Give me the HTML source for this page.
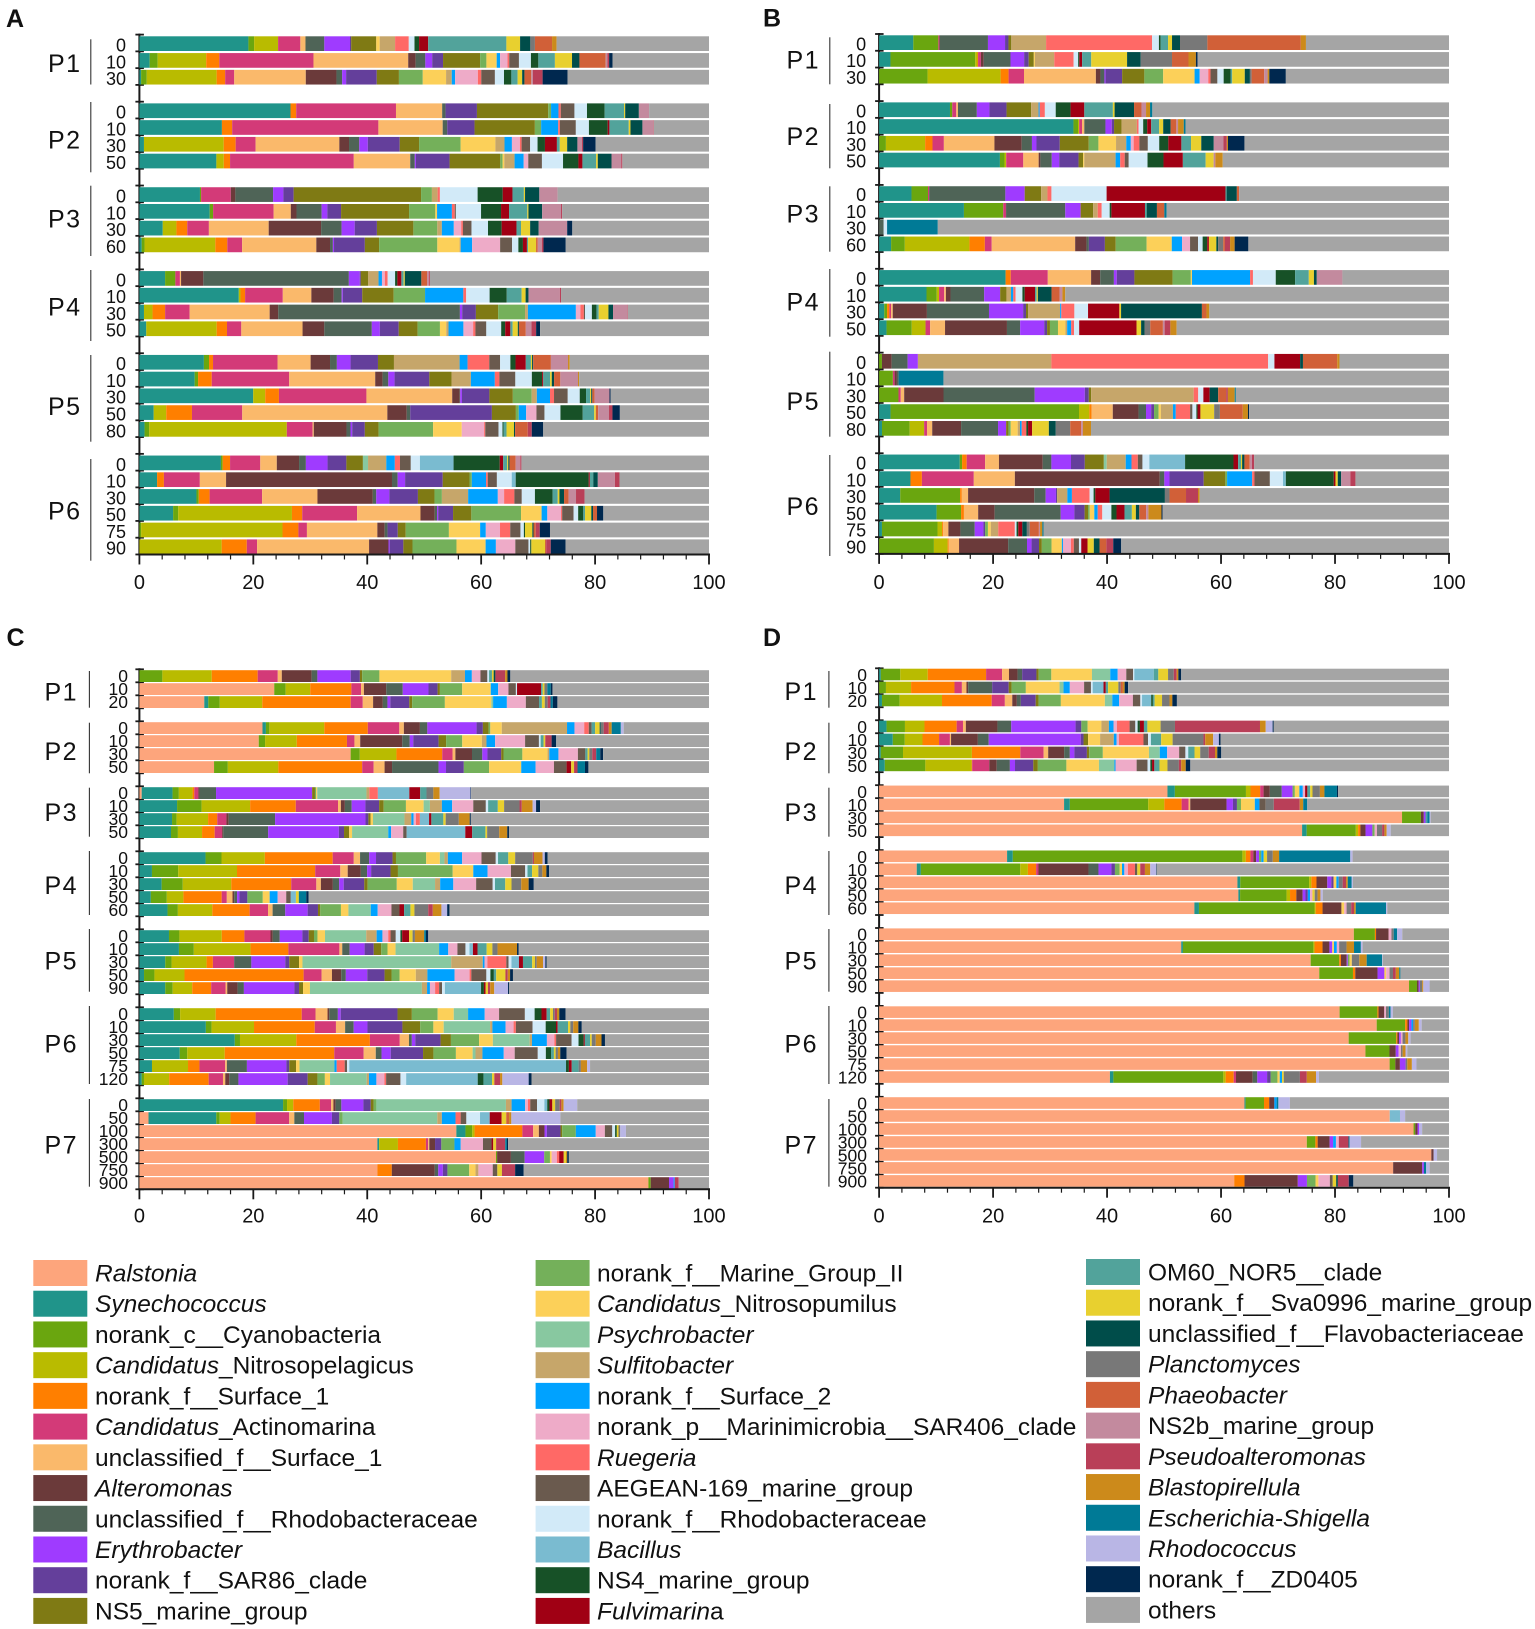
<!DOCTYPE html>
<html lang="en">
<head>
<meta charset="utf-8">
<title>Taxonomic composition stacked bars by station and depth</title>
<style>
html,body{margin:0;padding:0;background:#fff;}
svg{display:block;font-family:"Liberation Sans",Arial,sans-serif;}
</style>
</head>
<body>
<svg id="figure" xmlns="http://www.w3.org/2000/svg" width="1535" height="1629" viewBox="0 0 1535 1629">
<rect x="0" y="0" width="1535" height="1629" fill="#ffffff"/>
<text x="6" y="27" font-size="25" font-weight="bold" fill="#111">A</text>
<text x="763" y="26.7" font-size="25" font-weight="bold" fill="#111">B</text>
<text x="6.5" y="646" font-size="25" font-weight="bold" fill="#111">C</text>
<text x="763" y="646" font-size="25" font-weight="bold" fill="#111">D</text>
<g id="panels"></g>
<g id="legend"></g>
</svg>
<script>
const taxaKeys=['Ral','Syn','Cya','Npe','Su1','Act','uS1','Alt','uRh','Ery','S86','NS5','MG2','Npu','Psy','Sul','Su2','Mar','Rue','AEG','nRh','Bac','NS4','Ful','OM6','Sva','Fla','Pla','Pha','NS2','Pse','Bla','Esc','Rho','ZD','Oth'];
const taxaNames=['Ralstonia','Synechococcus','norank_c__Cyanobacteria','Candidatus_Nitrosopelagicus','norank_f__Surface_1','Candidatus_Actinomarina','unclassified_f__Surface_1','Alteromonas','unclassified_f__Rhodobacteraceae','Erythrobacter','norank_f__SAR86_clade','NS5_marine_group','norank_f__Marine_Group_II','Candidatus_Nitrosopumilus','Psychrobacter','Sulfitobacter','norank_f__Surface_2','norank_p__Marinimicrobia__SAR406_clade','Ruegeria','AEGEAN-169_marine_group','norank_f__Rhodobacteraceae','Bacillus','NS4_marine_group','Fulvimarina','OM60_NOR5__clade','norank_f__Sva0996_marine_group','unclassified_f__Flavobacteriaceae','Planctomyces','Phaeobacter','NS2b_marine_group','Pseudoalteromonas','Blastopirellula','Escherichia-Shigella','Rhodococcus','norank_f__ZD0405','others'];
const taxaItalicChars=[9,13,0,10,0,10,0,11,0,13,0,0,0,10,13,13,0,0,8,0,0,8,0,10,0,0,0,12,11,0,17,15,20,11,0,0];
const taxaColors=['#FDA57C','#20948A','#6AA60F','#B9BB00','#FF7F00','#D33A78','#FAB96B','#6B3A3A','#4F6457','#9F3BFF','#643F9B','#7F7A14','#74B05A','#FCD059','#88C8A0','#C6A66A','#00A2FF','#EEABC8','#FF6966','#6A5A4E','#D2EAF8','#7ABBD0','#175127','#A00014','#52A39B','#E8D02F','#004D4A','#787878','#D16038','#C38A9E','#B93F58','#CC8A1B','#007A96','#B9B6E5','#00284F','#A5A5A5'];

const xTickValues=[0,20,40,60,80,100];
const panelAGroups=['P1','P2','P3','P4','P5','P6'];
const panelADepths=[['0','10','30'],['0','10','30','50'],['0','10','30','60'],['0','10','30','50'],['0','10','30','50','80'],['0','10','30','50','75','90']];
const panelAValues=[
[{Syn:19.1,Cya:1,Npe:4.2,Act:3.9,uS1:.9,uRh:3.3,Ery:4.5,S86:.2,NS5:4.4,Npu:.6,Sul:2.7,Rue:2.4,nRh:1,NS4:.8,Ful:1.6,OM6:13.7,Sva:2.4,Fla:1.8,Pla:.8,Pha:3,Bla:.8,Oth:26.7},
{Syn:1.8,Cya:1.4,Npe:8.5,Su1:2.3,Act:16.5,uS1:16.6,Alt:1.3,uRh:1.7,Ery:1.2,S86:1.9,NS5:6.5,MG2:1.1,Npu:1.8,Su2:.6,Mar:1.3,Rue:.3,AEG:1.7,nRh:2.1,NS4:1.3,OM6:2.9,Sva:3,Fla:1.3,Pha:4.6,NS2:.3,Pse:.3,ZD:.6,Oth:16.9},
{Syn:.3,Cya:1,Npe:12.3,Su1:1.5,Act:1.6,uS1:12.6,Alt:5.4,uRh:1,Ery:.7,S86:5.4,NS5:3.9,MG2:4.2,Npu:4.1,Sul:1,Su2:.6,Mar:4,Rue:.6,AEG:2.4,nRh:1.6,NS4:1.3,OM6:1.1,Sva:.8,Fla:.4,Pha:1.2,NS2:.3,Pse:1.7,ZD:4.4,Oth:24.9}],
[{Syn:26.5,Su1:1,Act:17.5,uS1:8.1,uRh:.6,S86:5.5,NS5:12.5,MG2:.5,Su2:1.3,Rue:.4,AEG:2.4,nRh:2.2,NS4:3.1,OM6:3.4,Sva:.2,Fla:2.4,NS2:1.8,Oth:10.5},
{Syn:14.5,Su1:1.8,Act:25.7,uS1:11.3,uRh:.8,S86:4.8,NS5:10.6,MG2:1.1,Su2:3,Rue:.3,AEG:2.8,nRh:2.3,NS4:3.3,Ful:.3,OM6:3.4,Sva:.3,Fla:2.1,NS2:1.9,Pse:.1,Oth:9.7},
{Syn:.8,Npe:14,Su1:2.1,Act:3.5,uS1:14.7,Alt:1.7,uRh:1.8,Ery:1.5,S86:5.6,NS5:3.4,MG2:7.3,Npu:6.1,Sul:1.6,Su2:1.3,Mar:1.4,Rue:.3,AEG:1.5,nRh:1.3,NS4:1.3,Ful:2.1,OM6:.5,Sva:1.3,Fla:1.8,NS2:.8,Pse:.2,ZD:2.2,Oth:19.9},
{Syn:13.5,Npe:1.3,Su1:1.1,Act:21.7,uS1:9.9,uRh:.8,Ery:.2,S86:5.9,NS5:8.9,MG2:.4,Npu:.3,Sul:1.8,Su2:1.6,Mar:.8,AEG:2.4,nRh:3.7,NS4:2.7,Ful:.7,OM6:2.4,Sva:.3,Fla:2.4,NS2:1.7,Pse:.2,Oth:15.2}],
[{Syn:10.6,Cya:.2,Act:5.2,Alt:.8,uRh:6.6,Ery:1.8,S86:1.8,NS5:22.3,MG2:1.9,Sul:1,Rue:.4,nRh:6.6,NS4:4.4,Ful:1.7,OM6:2,Sva:.2,Fla:2.5,NS2:3.2,Oth:26.5},
{Syn:12.3,Cya:.6,Act:10.6,uS1:3,Alt:1,uRh:4.4,Ery:1,S86:2.4,NS5:11.9,MG2:4.6,Npu:.3,Su2:2.6,Rue:.5,AEG:.2,nRh:4.4,NS4:3.5,Ful:1.4,OM6:3.2,Sva:.2,Fla:2.4,NS2:3.3,Pse:.2,Oth:25.7},
{Syn:4.1,Npe:2.4,Su1:1.9,Act:3.8,uS1:10.5,Alt:9.2,uRh:3.6,Ery:2.3,S86:3.9,NS5:6.4,MG2:4.2,Sul:.8,Su2:2.1,Mar:1.3,Rue:.3,AEG:1.5,nRh:2.9,NS4:2.4,Ful:2.6,OM6:.8,Sva:1.6,Fla:1.5,NS2:5,ZD:.9,Oth:24},
{Syn:.4,Cya:.5,Npe:12.4,Su1:2.1,Act:2.6,uS1:13,Alt:2.4,uRh:.5,Ery:.2,S86:5.4,NS5:2.5,MG2:10.2,Npu:3.9,Sul:.2,Su2:2,Mar:4.9,AEG:2.1,nRh:1.1,NS4:.8,Ful:.7,OM6:.2,Sva:1.4,Pha:.3,NS2:.7,Pse:.3,ZD:3.9,Oth:25.1}],
[{Syn:4.5,Cya:1.8,Act:.8,uS1:.2,Alt:3.9,uRh:25.5,Ery:1.9,S86:.2,NS5:1.3,Sul:1.8,Su2:.6,Mar:.5,Rue:.5,nRh:1.3,NS4:.4,Ful:.7,OM6:.4,Sva:.2,Fla:2.9,Pha:1,NS2:.3,Pse:.2,Oth:48.9},
{Syn:17.4,Npe:.3,Su1:.8,Act:6.6,uS1:5,Alt:3.9,uRh:1.4,Ery:.2,S86:3.4,NS5:5.5,MG2:5.5,Su2:6.7,Rue:.5,nRh:4.1,NS4:3,OM6:2.6,Sva:.7,Fla:.5,NS2:5.5,Pse:.2,Oth:25.9},
{Syn:.8,Npe:1.5,Su1:2.2,Act:4.3,uS1:14,Alt:1.5,uRh:31.8,Ery:.4,S86:2.4,NS5:3.9,MG2:4.7,Sul:.5,Su2:8.4,Mar:.8,Rue:.6,AEG:.2,nRh:1.2,NS4:.8,OM6:.4,Sva:1.7,Fla:.8,NS2:2.5,Pse:.1,Oth:14.2},
{Syn:1.2,Npe:12.3,Su1:1.8,Act:2.5,uS1:10.7,Alt:3.8,uRh:8.3,Ery:1.4,S86:3.3,NS5:3.3,MG2:3.9,Npu:1.1,Sul:.4,Su2:2.6,Mar:1.7,Rue:.4,AEG:1.9,nRh:2.6,NS4:.7,Ful:.9,OM6:.4,Sva:.9,Fla:.2,Pha:1.2,NS2:1,Pse:.8,ZD:.7,Oth:29.5}],
[{Syn:11.3,Cya:.9,Su1:.7,Act:11.3,uS1:5.8,Alt:3.4,uRh:1.2,Ery:2.4,S86:4.8,NS5:2.8,Sul:11.5,Su2:1.4,Rue:3.8,AEG:1.9,nRh:1.8,NS4:.9,Ful:1.8,OM6:.9,Sva:.2,Fla:.2,Pha:3.1,NS2:3,Bla:.3,Oth:24.4},
{Syn:9.7,Cya:.6,Su1:2.4,Act:13.6,uS1:15.1,Alt:1.3,uRh:1,Ery:1.1,S86:6.1,NS5:3.9,Sul:3.4,Su2:4.2,Rue:.8,AEG:2.8,nRh:2.9,NS4:1.8,Ful:.2,OM6:1.2,Sva:.3,Fla:.4,Pha:1.1,NS2:3.1,Bla:.2,Oth:22.8},
{Syn:19.9,Npe:2.1,Su1:2.4,Act:15.3,uS1:15,Alt:1.3,uRh:.1,Ery:.3,S86:4.8,NS5:4.1,MG2:3.3,Sul:.9,Su2:2.3,Rue:.7,AEG:2.4,nRh:2.1,NS4:1.1,OM6:.7,Sva:.2,Fla:.2,Pha:.4,NS2:2.6,ZD:.2,Oth:17.2},
{Syn:2.5,Npe:2.2,Su1:4.5,Act:8.8,uS1:25.4,Alt:3.4,uRh:.6,S86:14.3,NS5:4.2,MG2:.5,Su2:1.3,Mar:1.8,AEG:1.4,nRh:2.8,NS4:3.9,OM6:2,Sva:.3,Pha:.4,NS2:1.9,Pse:.6,ZD:1.3,Oth:15.6},
{Syn:.9,Cya:.8,Npe:24,Act:4.5,uS1:.2,Alt:5.7,uRh:.7,Ery:.3,S86:2.2,NS5:2.4,MG2:9.5,Npu:5,Mar:3.9,Rue:.2,AEG:2.3,nRh:.7,NS4:.2,OM6:.5,Sva:1.3,Fla:.2,Pha:2.2,Pse:.7,ZD:2,Oth:28.9}],
[{Syn:14.3,Cya:.3,Su1:1.3,Act:5.3,uS1:2.9,Alt:3.9,uRh:1.2,Ery:3.8,S86:3.3,NS5:2.9,Psy:.9,Sul:3.2,Su2:1.5,Rue:.9,AEG:1.9,nRh:1.6,Bac:5.9,NS4:8.1,Ful:.6,OM6:.7,Sva:.2,Fla:.2,Pha:1.1,NS2:.8,Pse:.2,Oth:32.9},
{Syn:3.1,Su1:1.2,Act:6.3,uS1:4.6,Alt:29.1,uRh:1,Ery:1.3,S86:6.6,NS5:4.7,MG2:.4,Su2:2.5,Rue:.3,AEG:1.6,nRh:2.6,Bac:.7,NS4:12.8,Ful:.2,OM6:.6,Fla:.8,NS2:3,Pse:.8,Oth:15.7},
{Syn:10,Cya:.4,Su1:1.9,Act:9.2,uS1:9.7,Alt:9.7,uRh:.6,Ery:2.3,S86:5,NS5:2.9,MG2:1.3,Sul:4.6,Su2:5.2,Mar:1.1,Rue:1.8,AEG:1.3,nRh:2.3,NS4:3.1,OM6:.9,Sva:.3,Fla:.8,Pha:.8,NS2:1.3,Pse:1.5,Oth:21.8},
{Syn:5.9,Cya:.9,Npe:19.9,Su1:1.8,Act:9.6,uS1:11.1,Alt:2.5,uRh:.4,Ery:.2,S86:2.6,NS5:3.2,MG2:8.7,Npu:3.6,Su2:1,Mar:2.4,Rue:.2,AEG:2,nRh:.8,NS4:.9,OM6:.3,Sva:1.1,Fla:.3,Pha:.7,ZD:1.1,Oth:18.5},
{Cya:.3,Npe:24.9,Su1:2.8,Act:1.5,uS1:12.4,Alt:1.3,uRh:.5,S86:1.8,NS5:1.4,MG2:7.6,Npu:5.5,Su2:1,Mar:2.5,Rue:1.8,AEG:1.8,nRh:.6,NS4:.2,Sva:1.3,Fla:.2,Pha:.4,Pse:.7,ZD:1.8,Oth:28},
{Npe:14.4,Su1:4.4,Act:1.8,uS1:19.6,Alt:3.4,Ery:.2,S86:2.4,NS5:1.6,MG2:7.7,Npu:5.1,Su2:1.8,Mar:3.4,AEG:2.3,nRh:.3,NS4:.2,Sva:2.4,Pha:.2,Pse:.8,ZD:2.6,Oth:25.1}]
];

const panelBGroups=['P1','P2','P3','P4','P5','P6'];
const panelBDepths=[['0','10','30'],['0','10','30','50'],['0','10','30','60'],['0','10','30','50'],['0','10','30','50','80'],['0','10','30','50','75','90']];
const panelBValues=[
[{Syn:6,Cya:4.4,Act:.2,uRh:8.5,Ery:3,S86:.6,NS5:.5,Sul:6.1,Rue:18.6,nRh:1.2,NS4:.3,OM6:1.3,Sva:.7,Fla:1.4,Pla:4.8,Pha:16.4,Bla:.9,Oth:25.1},
{Syn:2,Cya:14.9,Npe:.4,Su1:.1,Act:.5,Alt:.5,uRh:4.7,Ery:2.4,S86:.8,NS5:.9,Npu:.2,Sul:3.4,Rue:3.4,nRh:.8,NS4:.2,Ful:.5,OM6:1.6,Sva:6.3,Fla:2.4,Pla:5.5,Pha:2.9,Bla:1.3,ZD:.3,Oth:44.2},
{Cya:8.5,Npe:12.8,Su1:1.4,Act:2.7,uS1:12.6,Alt:.8,uRh:.7,Ery:.2,S86:2.9,NS5:3.9,MG2:3.3,Npu:5.5,Su2:.9,Mar:1.5,Rue:.4,AEG:1.2,nRh:1.1,NS4:1.2,OM6:.3,Sva:2.2,Fla:.9,Pla:.3,Pha:2.2,NS2:.6,Bla:.3,ZD:2.9,Oth:28.6}],
[{Syn:12.4,Cya:.4,Act:.7,uS1:.3,uRh:3.3,Ery:2.2,S86:3,NS5:4.3,Sul:1.3,Su2:.2,Rue:.9,nRh:1.9,NS4:2.6,Ful:2.4,OM6:5,Sva:.3,Fla:3.4,Pha:1.3,NS2:.8,Bla:.7,Esc:.4,Oth:51.9},
{Syn:34,Cya:.8,Npe:.2,Act:.5,uS1:.4,uRh:3.7,Ery:1.1,S86:.4,NS5:1.3,Sul:2.7,Rue:.3,nRh:.8,NS4:.7,Ful:.7,OM6:1.4,Sva:.7,Fla:1.3,Pha:1,NS2:.3,Bla:1,Esc:.3,Oth:46.1},
{Cya:1.2,Npe:6.9,Su1:1.3,Act:2,uS1:8.9,Alt:4.8,uRh:1.8,Ery:.8,S86:4.1,NS5:5.1,MG2:1.7,Npu:3.1,Sul:1.8,Su2:.8,Mar:.5,Rue:1,AEG:1.5,nRh:2,NS4:1.6,Ful:2.3,OM6:1.7,Sva:1.8,Fla:2.2,NS2:1.7,Pse:.6,Bla:.2,ZD:2.9,Oth:36},
{Syn:21.2,Cya:.8,Npe:.3,Act:3,uS1:2.7,Alt:.3,uRh:2,Ery:1.3,S86:3.4,NS5:.8,Npu:.2,Sul:5.5,Su2:.8,Rue:.8,AEG:.7,nRh:3.3,NS4:2.8,Ful:3.4,OM6:4,Sva:1.4,NS2:.3,Bla:1.3,Oth:39.7}],
[{Syn:5.7,Cya:2.9,Act:.2,uRh:13.4,Ery:3.4,NS5:2.9,Sul:1.1,Rue:.7,nRh:9.7,Ful:20.9,OM6:.2,Fla:1.8,Pha:.4,Oth:36.9},
{Syn:14.9,Cya:6.9,Act:.5,uRh:10.4,Ery:2.7,NS5:2.2,Sul:.8,Rue:.7,nRh:1.4,NS4:.3,Ful:5.9,OM6:.3,Fla:1.8,Pha:1.3,Esc:.4,Oth:49.6},
{uRh:.8,nRh:.6,Esc:8.9,Oth:89.7},
{Syn:2.1,Cya:2.4,Npe:11.3,Su1:2.7,Act:1.2,uS1:14.6,Alt:2,uRh:.4,S86:2.8,NS5:1.9,MG2:5.4,Npu:4.4,Su2:1.8,Mar:1.4,AEG:1.4,nRh:.8,NS4:.8,Ful:.3,Sva:1.3,Fla:.3,Pla:.9,Pha:.3,Pse:.9,Bla:.8,ZD:2.4,Oth:35.1}],
[{Syn:22.2,Su1:.9,Act:6.5,uS1:7.6,Alt:1.6,uRh:2.4,Ery:.5,S86:3.1,NS5:6.7,MG2:3.2,Npu:.2,Su2:10.2,Rue:.5,nRh:4,NS4:3.4,OM6:2.4,Sva:.9,Fla:.5,NS2:4.5,Oth:18.7},
{Syn:8.3,Cya:1.8,Npe:.4,Act:.9,uS1:.3,Alt:.8,uRh:5.9,Ery:2.8,NS5:1.1,Sul:.8,Su2:.4,Rue:.4,nRh:1.2,NS4:.4,Ful:1.8,OM6:.3,Sva:.2,Fla:2.4,Pha:1.4,NS2:.5,Bla:.5,Oth:67.2},
{Syn:.9,Cya:.5,Su1:.4,Act:.3,uS1:.3,Alt:6,uRh:10.9,Ery:6,S86:.5,NS5:.4,Sul:5.6,Su2:.2,Rue:2.3,nRh:2.4,Ful:5.5,Sva:.3,Fla:14.2,Pha:.8,Bla:.5,Oth:42.1},
{Syn:1.3,Cya:4.4,Npe:2.4,Act:.8,uS1:2.6,Alt:10.8,uRh:2.3,Ery:4.2,S86:.5,NS5:.5,MG2:1.4,Npu:1.3,Sul:.3,Su2:.7,Rue:.5,nRh:.9,Ful:10,Sva:.8,Fla:.6,Pla:1,Pha:2.2,NS2:.3,Pse:1,Bla:1.1,Oth:47.5}],
[{Cya:.5,Alt:1.7,uRh:2.8,Ery:1.8,Sul:23.4,Rue:38,nRh:1.1,Ful:4.5,Fla:.5,Pha:6,Bla:.4,Oth:19.2},
{Cya:2.4,Act:.3,Alt:.4,uRh:.3,Esc:7.8,Oth:88},
{Cya:3.4,Act:.4,uS1:.6,Alt:6.9,uRh:16,Ery:8.8,S86:.7,NS5:.4,Sul:18,Rue:.8,nRh:.9,Ful:1.1,Fla:1.5,Pha:1.4,Pse:.3,Bla:1.2,Esc:.2,Oth:37.4},
{Syn:2,Cya:32.9,Npe:1.8,Su1:.4,uS1:3.7,Alt:4.5,uRh:1.3,Ery:.9,S86:.5,MG2:.8,Npu:.4,Sul:2.1,Su2:.5,Rue:2.5,AEG:.4,nRh:.7,NS4:.2,Ful:.5,Sva:2.4,Pla:1,Pha:4,Bla:.9,ZD:.2,Oth:34.9},
{Syn:.5,Cya:4.8,Npe:2.5,Act:.5,uS1:.9,Alt:5,uRh:6.4,Ery:1.4,NS5:.4,MG2:.4,Npu:1.2,Sul:.4,Su2:.3,Rue:.8,NS4:.3,Ful:.7,Sva:2.9,Fla:1.2,Pla:2.5,Pha:1.9,NS2:.3,Bla:1.4,Oth:62}],
[{Syn:14,Cya:.4,Su1:.8,Act:3.2,uS1:2.4,Alt:7.6,uRh:1.5,Ery:3.4,S86:2.4,NS5:3.3,Psy:.5,Sul:3.3,Su2:1,Rue:1.1,AEG:.8,nRh:1.2,Bac:6.2,NS4:8.4,Ful:.8,OM6:.5,Sva:.2,Fla:.4,Pha:.9,NS2:.4,Pse:.4,Oth:33.8},
{Syn:5.5,Su1:2,Act:9.1,uS1:7.2,Alt:25.4,uRh:.8,Ery:.9,S86:6,NS5:3.8,MG2:.3,Su2:4.4,Rue:.4,AEG:2.7,nRh:2.3,Bac:.5,NS4:8.4,Sva:.4,Ful:.3,Fla:.6,NS2:1.6,Pse:.9,Oth:16.4},
{Syn:3.7,Cya:10.5,Su1:.3,uS1:1.1,Alt:11.6,uRh:2,Ery:1.8,S86:.2,Sul:1.8,Su2:.8,Rue:3.1,nRh:.7,Ful:2.5,NS4:.3,Fla:9.7,Pla:.8,Pha:2.9,Pse:2.1,Bla:.3,Oth:43.7},
{Syn:10.1,Cya:4.3,Su1:.5,uS1:2.5,Alt:2.9,uRh:11.6,Ery:2.4,S86:1.8,NS5:.6,MG2:.3,Npu:.8,Su2:.6,Rue:.8,nRh:1.6,NS4:.9,Ful:1.4,OM6:1.3,Sva:.7,Fla:.6,Pha:1.2,NS2:.4,Bla:2.3,ZD:.2,Oth:50.3},
{Syn:.5,Cya:9.7,Npe:.8,Su1:.2,uS1:.9,Alt:2.1,uRh:2.5,Ery:1.5,S86:.3,MG2:.5,Npu:.5,Sul:1.3,Rue:2.9,nRh:.3,Ful:.7,NS4:.3,Fla:.8,Pla:.5,Pha:1.6,NS2:.2,Bla:.4,Esc:.2,Oth:70.8},
{Cya:9.6,Npe:2.4,Su1:.2,uS1:1.8,Alt:8.6,uRh:3.3,Ery:.8,S86:1.3,NS5:.5,MG2:1.7,Npu:1.8,Su2:.2,Mar:1.4,Rue:.5,AEG:.9,nRh:.4,Ful:1.1,Sva:1.1,Fla:1,Pha:1.2,Pse:1.2,ZD:1.4,Oth:57.4}]
];

const panelCGroups=['P1','P2','P3','P4','P5','P6','P7'];
const panelCDepths=[['0','10','20'],['0','10','30','50'],['0','10','30','50'],['0','10','30','50','60'],['0','10','30','50','90'],['0','10','30','50','75','120'],['0','50','100','300','500','750','900']];
const panelCValues=[
[{Cya:4,Npe:8.6,Su1:8,Act:3.5,uS1:.7,Alt:5.2,uRh:1,Ery:5.8,S86:1.6,NS5:.4,MG2:3,Npu:12.5,Sul:2.4,Su2:1.2,Mar:1.5,AEG:1.2,nRh:.3,OM6:.5,Sva:.3,Fla:.3,Pse:1.7,Bla:.4,ZD:.5,Oth:34.6},
{Ral:23.6,Cya:2,Npe:4.3,Su1:7.2,Act:1.7,uS1:.5,Alt:3.9,uRh:2.9,Ery:4.5,S86:1.6,NS5:.4,MG2:3.9,Npu:5,Su2:1.3,Mar:1.8,AEG:1.3,nRh:.2,Ful:4.2,OM6:.3,Sva:.3,Pla:.5,Esc:.6,ZD:.3,Oth:27.4},
{Ral:11.3,Syn:.7,Cya:2,Npe:7.4,Su1:15.4,Act:2.1,uS1:1.8,Alt:1.7,uRh:.8,Ery:.5,S86:3.3,NS5:.5,MG2:5.7,Npu:8.1,Psy:.3,Su2:2.4,Mar:3.3,AEG:2.3,OM6:.5,Sva:.5,Pla:.5,Pse:.5,Esc:.4,ZD:.8,Oth:26.4}],
[{Ral:21.5,Syn:.6,Cya:.6,Npe:9.6,Su1:7.6,Act:5.5,uS1:.8,Alt:2.8,uRh:1.3,Ery:8.6,S86:1.1,NS5:1,MG2:.3,Npu:2,Sul:11.4,Su2:1.3,Mar:1.7,Rue:.8,AEG:.5,OM6:.6,Sva:.8,Fla:.2,Pla:.5,Pse:.9,Bla:.5,Esc:1.6,Rho:.5,Oth:14.9},
{Ral:20.7,Cya:1.1,Npe:5.5,Su1:8.7,Act:1.3,uS1:1,Alt:7.3,uRh:1.3,Ery:.6,S86:4.4,NS5:1.3,MG2:2.8,Npu:3.4,Sul:.8,Su2:1.5,Mar:5.2,AEG:2.4,nRh:.3,OM6:.5,Sva:.3,Pse:1.1,ZD:.8,Oth:26.5},
{Ral:36.9,Cya:1.6,Npe:6.4,Su1:8,Act:1.8,uS1:.5,Alt:2.9,uRh:1.8,Ery:.9,S86:2.4,NS5:.4,MG2:3.3,Npu:4.4,Sul:.3,Su2:1.6,Mar:3.4,AEG:1.3,OM6:.4,Sva:.3,Pla:.5,Pse:.7,Esc:.7,ZD:.5,Oth:18.5},
{Ral:13,Cya:2.4,Npe:8.8,Su1:14.6,Act:2,uS1:1.9,Alt:1.3,uRh:8.1,Ery:1.3,S86:3.1,MG2:4.4,Npu:5.6,Su2:2.5,Mar:3.2,AEG:2.2,Ful:.8,Sva:.5,Pse:.6,Esc:1.3,ZD:.6,Oth:21}],
[{Ral:.4,Syn:5.4,Cya:1.1,Npe:2.4,Su1:.3,Act:.7,Alt:.2,uRh:2.9,Ery:16.8,NS5:.5,MG2:.2,Npu:.2,Psy:8.6,Sul:.5,Rue:1.5,Bac:5.5,Ful:1.9,OM6:1.1,Pla:1.2,Bla:1.1,Rho:5.4,ZD:.1,Oth:41.6},
{Syn:6.6,Cya:4.3,Npe:8.5,Su1:8,Act:7.4,uS1:.5,Alt:.7,uRh:1.2,Ery:2.4,S86:2.4,NS5:.8,MG2:3.9,Npu:3.1,Psy:1.1,Sul:2.1,Su2:1.8,Mar:3.7,AEG:2.2,nRh:.4,OM6:1.7,Sva:1.1,Pla:2.7,Pse:.4,Bla:1.9,Rho:.6,ZD:.7,Oth:29.6},
{Syn:5.7,Cya:.8,Npe:5.5,Su1:1.6,Act:1.6,Alt:.4,uRh:8.1,Ery:15.8,S86:.5,NS5:.4,Npu:.4,Psy:5.5,Sul:1.2,Su2:.4,Mar:.4,Rue:.7,Bac:1.6,Ful:.4,OM6:2.1,Sva:.4,Pla:2.3,Bla:1.9,ZD:.2,Oth:41.6},
{Syn:5.5,Cya:1.2,Npe:4.2,Su1:2.2,Act:1.3,Alt:.2,uRh:7.8,Ery:12.3,S86:.9,NS5:.9,Npu:.5,Psy:6.3,Su2:.5,Mar:2.1,AEG:.6,Bac:10.2,Ful:1.2,OM6:2.3,Sva:.3,Pla:2.1,Bla:1.4,ZD:.3,Oth:34.8}],
[{Syn:11.6,Cya:2.8,Npe:7.6,Su1:11.9,Act:3.7,uS1:1.1,uRh:1.6,Ery:1.2,S86:2.9,NS5:.6,MG2:5.3,Npu:2.4,Psy:.8,Sul:.6,Su2:2.5,Mar:3.4,AEG:2.5,nRh:.4,OM6:1.8,Sva:1.2,Pla:3.1,Pse:.2,Bla:1.5,Rho:.4,ZD:.5,Oth:28.3},
{Syn:2.2,Cya:4.6,Npe:10.3,Su1:13.7,Act:4.4,uS1:1.3,Alt:2.3,uRh:1.1,Ery:.7,S86:3.4,NS5:1.3,MG2:9.6,Npu:3.6,Su2:2.5,Mar:4.1,AEG:2.5,nRh:.4,OM6:.8,Sva:1.1,Pla:.7,Bla:.7,ZD:.5,Oth:28},
{Syn:3.9,Cya:3.7,Npe:8.5,Su1:10.5,Act:4.4,uS1:.8,Alt:2.1,uRh:1.1,Ery:.8,S86:3.6,NS5:.6,MG2:5.1,Npu:2.8,Psy:3.9,Sul:.9,Su2:2.3,Mar:4,AEG:2.9,nRh:.4,OM6:1.8,Sva:1.1,Pla:1.7,Bla:1.3,ZD:.9,Oth:30.7},
{Syn:2,Cya:2.8,Npe:2.9,Su1:6.7,Act:.9,uS1:1,Alt:.3,uRh:.5,Ery:.4,S86:1.4,MG2:2.7,Npu:1.2,Su2:1.4,Mar:1.5,AEG:.8,Bac:.9,Sva:.5,Esc:1.3,ZD:.4,Oth:70.1},
{Syn:4.9,Cya:1.8,Npe:6,Su1:6.5,Act:3.2,uS1:.8,uRh:2.2,Ery:3.9,S86:1.8,NS5:.4,MG2:3.6,Npu:1.3,Psy:3.9,Su2:1.2,Mar:2.4,AEG:1.4,Ful:.8,OM6:1.1,Sva:.7,Pla:2.4,Pse:.8,Bla:1.5,Rho:1,ZD:.4,Oth:45.2}],
[{Syn:5.1,Cya:1.8,Npe:7.3,Su1:3.9,Act:4.5,Alt:.4,uRh:1.2,Ery:3.9,S86:1.1,NS5:.9,MG2:.6,Npu:1.3,Psy:7.1,Sul:1.8,Su2:1,Mar:1,Rue:.4,AEG:.9,nRh:.8,NS4:.3,Ful:1.2,Sva:.6,Pla:.4,Bla:1.6,Esc:.3,ZD:.4,Oth:48.4},
{Syn:6.9,Cya:2.6,Npe:9.9,Su1:6.6,Act:8.9,uS1:.5,uRh:1.3,Ery:2.6,S86:1.6,NS5:1.3,MG2:1.1,Npu:1.4,Psy:7.6,Su2:1.6,Mar:1.6,AEG:1.4,nRh:.7,Bac:.6,Ful:.8,OM6:1.6,Sva:1,Pla:.9,Bla:3.4,ZD:.3,Oth:33.2},
{Syn:4.5,Cya:1.1,Npe:6.1,Su1:1.1,Act:3.7,uRh:3,Ery:5.9,S86:.7,NS5:1.7,Npu:.6,Psy:25.9,Sul:5.5,Su2:.3,Mar:.5,Rue:3.3,AEG:.4,nRh:.5,Bac:1.3,Ful:.7,OM6:1.6,Sva:.5,Pla:.3,Bla:1.1,Rho:.4,ZD:.2,Oth:28.3},
{Syn:.8,Cya:1.8,Npe:5.2,Su1:20.6,Act:3.1,uS1:1.8,Alt:1.6,uRh:.8,Ery:3.7,S86:3,NS5:1.2,MG2:1.4,Npu:2.8,Sul:2,Su2:4.7,Mar:2.6,Rue:.3,AEG:2.6,nRh:.7,NS4:.6,OM6:.4,Sva:1.6,Pse:.4,Bla:.4,ZD:.5,Oth:33.9},
{Syn:4.5,Cya:1.3,Npe:3.4,Su1:3.3,Act:2.5,uS1:.3,Alt:1.8,uRh:1.1,Ery:8.8,S86:.8,NS5:.7,Npu:1.2,Psy:19.5,Sul:.9,Su2:.5,Mar:.9,Rue:.7,AEG:.5,nRh:.5,Bac:6.3,NS4:.5,Ful:.3,Sva:.4,Pse:.4,Bla:.7,Rho:2.4,ZD:.2,Oth:34.8}],
[{Syn:6,Cya:1.1,Npe:6.2,Su1:15,Act:2.4,uS1:2.1,Alt:.3,uRh:1.5,Ery:.5,S86:9.9,NS5:2.5,MG2:4.5,Npu:2.8,Psy:2.5,Su2:2.9,Mar:2.5,AEG:4.5,nRh:1.7,NS4:1.2,Ful:.9,OM6:.6,Sva:.5,Pla:.3,Pse:.4,Bla:.4,ZD:1.1,Oth:25},
{Syn:11.6,Cya:1,Npe:7.4,Su1:10.6,Act:3.7,uS1:1.6,uRh:1.5,Ery:2.4,S86:6.1,NS5:3.1,MG2:2.3,Npu:1.8,Psy:8.1,Sul:.4,Su2:2.3,Mar:1.4,Rue:.4,AEG:2.9,nRh:2.3,NS4:1.8,Ful:.3,OM6:1.8,Sva:.4,Pla:.5,Bla:.9,ZD:.6,Oth:22.2},
{Syn:16.6,Cya:.9,Npe:9.8,Su1:12.8,Act:5.2,uS1:1.6,uRh:.5,Ery:.6,S86:4.4,NS5:1.8,MG2:4.9,Npu:2.4,Psy:6.4,Sul:.4,Su2:2.6,Mar:1.3,Rue:.3,AEG:2.7,nRh:1.2,NS4:.9,Ful:.2,OM6:.9,Sva:.3,Pla:.7,Bla:1,ZD:.6,Oth:18.1},
{Syn:7,Cya:1.3,Npe:6.5,Su1:19,Act:5.1,uS1:2.1,uRh:1,Ery:1.6,S86:5.6,NS5:1.8,MG2:3.9,Npu:2.9,Psy:.5,Sul:1.2,Su2:3.7,Mar:1.9,AEG:4,nRh:1.4,NS4:.9,OM6:.5,Sva:.3,Pla:.4,Bla:.4,ZD:1.1,Oth:24.7},
{Syn:2.2,Npe:6.3,Su1:2,Act:4.5,uS1:.3,uRh:3.5,Ery:6.9,S86:.5,NS5:1.2,Npu:.6,Psy:6.1,Su2:.4,Rue:1.4,AEG:.4,nRh:.4,Bac:37.9,NS4:.5,Ful:.5,OM6:1.2,Pla:.4,Bla:1.1,Rho:.5,Oth:20.8},
{Syn:.4,Cya:.4,Npe:4.4,Su1:6.9,Act:2.5,uS1:.4,Alt:.7,uRh:1.6,Ery:8.6,S86:3.5,NS5:1.7,MG2:1.3,Npu:.9,Psy:6.4,Sul:.4,Su2:1.3,Mar:1.4,Rue:.3,AEG:2.5,nRh:1,Bac:12.5,NS4:1,OM6:1.5,Sva:.4,Pse:1,Bla:.4,Rho:4.6,ZD:.5,Oth:31}],
[{Syn:25.4,Cya:.7,Npe:1.1,Su1:4.7,Act:2,uS1:.4,Alt:.4,uRh:1,Ery:3.9,S86:1.3,NS5:.5,MG2:.5,Psy:22.9,Sul:1,Su2:2.4,Mar:.5,Rue:.4,AEG:1.2,nRh:1.3,Bac:.5,NS4:.4,Ful:.5,Sva:.5,Pla:.8,Pse:.3,Bla:.4,Rho:2.4,Oth:23.3},
{Ral:1.6,Syn:11.9,Cya:.6,Npe:1.9,Su1:4.4,Act:5.9,uS1:.9,uRh:1.7,Ery:4.9,S86:1.3,MG2:.6,Psy:16.6,Sul:.8,Su2:2.4,Rue:.9,AEG:1,nRh:2.4,Bac:1.7,Ful:2.1,Sva:.8,Pha:.5,Bla:.4,Rho:8.6,Oth:26.1},
{Ral:55.7,Syn:1.6,Cya:1.2,Npe:.4,Su1:8.4,Act:1.9,uS1:1,Alt:1,Ery:.4,S86:2.4,NS5:.3,MG2:2.4,Su2:3.5,Mar:1.6,AEG:1.3,nRh:.5,NS4:.3,Sva:.3,Pla:.3,Rho:1,Oth:14.6},
{Ral:41.7,Syn:.3,Npe:3.3,Su1:4.9,Act:.4,uS1:.2,Alt:1,S86:1.1,MG2:2.3,Su2:1.1,Mar:3.9,AEG:1.5,Ful:.3,Sva:.5,Pse:1.6,Esc:.3,ZD:.2,Oth:35.2},
{Ral:62.1,Cya:.2,Alt:2.4,uRh:2.4,Ery:3.4,MG2:1,Npu:.3,Mar:.9,Rue:.4,Ful:.8,Sva:.4,Bla:.2,ZD:.3,Oth:24.4},
{Ral:41.5,Su1:2.5,Alt:7.5,uRh:.6,Ery:.8,S86:.8,MG2:3.8,Npu:1.1,Sul:.5,Mar:2.5,AEG:.8,Sva:.8,Pse:2.3,ZD:1.5,Oth:32.3},
{Ral:89.1,Cya:.4,Alt:3.2,Ery:.8,Su2:.2,Pse:.7,Oth:5.3}]
];

const panelDGroups=['P1','P2','P3','P4','P5','P6','P7'];
const panelDDepths=[['0','10','20'],['0','10','30','50'],['0','10','30','50'],['0','10','30','50','60'],['0','10','30','50','90'],['0','10','30','50','75','120'],['0','50','100','300','500','750','900']];
const panelDValues=[
[{Syn:.3,Cya:3.4,Npe:4.8,Su1:10.2,Act:2.8,uS1:1.2,Alt:1.5,uRh:.8,S86:2.5,NS5:.4,MG2:2.2,Npu:7.1,Psy:3.2,Su2:1.3,Mar:1.5,AEG:1.2,nRh:.2,Bac:3.4,OM6:.8,Sva:1.7,Pla:1,Pse:.5,Bla:.3,ZD:.5,Oth:46.8},
{Cya:1.2,Npe:4.4,Su1:7.6,Act:1.3,uS1:.8,Alt:.3,uRh:4.2,S86:2.9,NS5:.5,MG2:2.5,Npu:5.9,Psy:.7,Su2:1.1,Mar:2.5,AEG:1.2,nRh:.3,Bac:1.9,Ful:.4,OM6:.4,Sva:1.8,Pla:.4,Pha:.4,Bla:.3,ZD:.6,Oth:56.2},
{Syn:.5,Cya:3.1,Npe:7.4,Su1:8.7,Act:2.3,uS1:1.3,Alt:.8,uRh:.7,S86:2.6,NS5:.5,MG2:3.9,Npu:7.7,Psy:1.3,Su2:1.2,Mar:2.4,AEG:1.3,nRh:.3,Bac:1.6,NS4:.3,OM6:.3,Sva:1.3,Pla:1.3,Bla:.5,ZD:.8,Oth:47.6}],
[{Syn:1.3,Cya:3.2,Npe:3.4,Su1:5.6,Act:1.1,uS1:.5,Alt:5.5,uRh:2.4,Ery:11.2,S86:1,MG2:1.1,Npu:2.4,Sul:1.3,Su2:.8,Mar:.6,Rue:2.2,AEG:1,nRh:.4,NS4:.4,Ful:.7,OM6:.6,Sva:2.3,Pla:2.5,Pse:14.8,Bla:1,Rho:1.2,ZD:.2,Oth:30.5},
{Syn:2.4,Cya:2.1,Npe:3.1,Su1:2.9,Act:1.9,uS1:.2,Alt:4.7,uRh:1.9,Ery:16.1,S86:.5,NS5:.8,Npu:2.1,Sul:2.4,Su2:.5,Mar:.4,Rue:4.3,AEG:.8,nRh:.5,OM6:1.8,Sva:2,Pla:5.4,Pse:.3,Bla:1.4,Rho:1,ZD:.3,Oth:40},
{Syn:.3,Cya:3.9,Npe:12.1,Su1:8.5,Act:4.1,uS1:.8,Alt:2.8,uRh:1,Ery:.8,S86:2.2,NS5:.4,MG2:2.4,Npu:8.1,Psy:1.9,Su2:1.3,Mar:2.1,AEG:1.1,nRh:.5,OM6:1.1,Sva:1,Pla:1.5,Pse:1.1,Bla:.4,ZD:.7,Oth:40},
{Syn:1,Cya:7.1,Npe:8.1,Su1:.1,Act:3,Alt:1.3,uRh:2.3,Ery:.9,S86:3.2,NS5:.8,MG2:5,Npu:5.7,Psy:2.7,Su2:.2,Mar:3.7,AEG:1.9,nRh:.5,NS4:.3,Ful:.4,OM6:.9,Sva:1.4,Pla:2,Pse:.4,Bla:.8,ZD:.8,Oth:45.3}],
[{Ral:50.7,Syn:1.3,Cya:12.5,Npe:.8,Su1:1.7,Act:.6,Alt:1.1,uRh:2.1,Ery:1.9,MG2:.4,Npu:.8,Su2:.6,Mar:.4,Ful:.4,OM6:.5,Sva:.4,Pla:1.3,Bla:.8,Esc:2.2,ZD:.2,Oth:19.5},
{Ral:32.1,Syn:1,Cya:13.6,Npe:2.8,Su1:3,Act:1.2,uS1:.3,Alt:6.3,Ery:1.1,S86:.7,MG2:.7,Npu:2.4,Su2:.8,AEG:1.1,Pla:1.4,Pse:4.5,Bla:.6,Esc:.7,Oth:24.6},
{Ral:91.3,Cya:3.3,Alt:.5,Ery:.3,OM6:.3,Esc:.4,Rho:.2,Oth:3.2},
{Ral:74,Syn:.8,Cya:8.6,Npe:.4,Su1:.4,Alt:.9,Ery:1.2,MG2:.4,Mar:.4,Pla:.9,Pse:.4,Bla:.4,Rho:.7,Oth:10.2}],
[{Ral:22.3,Syn:1,Cya:40,Npe:.6,Su1:.8,Act:.5,Alt:.5,Ery:.5,MG2:.4,Su2:.4,Sva:.6,Pla:1,Bla:1.1,Esc:12.4,Rho:.4,Oth:16.8},
{Ral:6.4,Syn:.7,Cya:16.9,Npe:1.3,Su1:1.4,Act:.4,Alt:8.5,uRh:1.7,Ery:2.2,S86:.6,MG2:.8,Npu:.4,Su2:.4,Mar:.6,Rue:1.2,AEG:.4,Sva:.5,Pse:.8,Bla:.9,Rho:1,ZD:.1,Oth:49.7},
{Ral:63,Syn:.5,Cya:12.1,Npe:.4,Su1:.9,Alt:1.9,Ery:.7,S86:.4,Npu:.5,Su2:.4,Pla:.7,Pse:.6,Bla:.3,Esc:.7,Rho:.2,Oth:16.9},
{Ral:62.6,Syn:.3,Cya:8.1,Npe:.6,Su1:1.1,Alt:1.1,Ery:.5,S86:.4,Su2:.4,Mar:.4,Sva:.4,Pla:.5,Bla:.5,Rho:.4,Oth:22},
{Ral:55.1,Syn:.8,Cya:20.2,Npe:.2,Su1:1.2,Alt:3.3,Npu:.5,Mar:.4,Pla:.8,Pse:.5,Bla:.3,Esc:5.3,Rho:.2,Oth:10.8}],
[{Ral:83.3,Cya:3.7,Su1:.2,Alt:2.2,Mar:.5,Pla:.4,Esc:.6,Rho:.9,Oth:8.2},
{Ral:52.8,Syn:.3,Cya:22.8,Npe:.2,Su1:1.4,Alt:1.2,Ery:.5,Npu:.3,Su2:.5,Mar:.4,Pla:1.3,Bla:1.3,Esc:1.2,Rho:.3,Oth:15.1},
{Ral:75.5,Cya:5,Su1:.3,Alt:1,Ery:.2,MG2:.3,Npu:.4,Pla:1.3,Bla:1.3,Esc:2.7,Rho:.1,Oth:11.6},
{Ral:77,Cya:5.9,Su1:.4,Alt:3.9,Ery:1.2,Npu:.3,Mar:.6,Pla:.6,Pse:.5,Bla:.6,Esc:.2,Oth:8.5},
{Ral:92.8,Cya:1.4,Alt:.3,Ery:.2,Pla:.4,Bla:.2,Rho:1.1,Oth:3.4}],
[{Ral:80.4,Cya:6.6,Su1:.2,Alt:1,Mar:.3,Pla:.5,Esc:.3,Rho:.4,Oth:9.8},
{Ral:87.4,Cya:5,Su1:.4,Alt:.3,Ery:.4,Su2:.3,Pla:.3,Bla:.7,Rho:.5,Oth:4.8},
{Ral:81.9,Cya:8.3,Su1:.2,Alt:.3,Ery:.3,Mar:.3,Pla:.5,Bla:.5,Rho:.4,Oth:6.7},
{Ral:85,Cya:4.2,Alt:1.1,Ery:.5,Mar:.4,Pla:.3,Bla:.5,Rho:.3,Oth:7.3},
{Ral:89.4,Cya:1,Alt:.8,Ery:1,Pla:.3,Bla:.8,Rho:.8,Oth:5.7},
{Ral:40.1,Syn:.6,Cya:19.1,Npe:.4,Su1:1.4,Act:.4,Alt:2.9,uRh:.8,Ery:1.7,S86:.6,MG2:1.2,Npu:.4,Su2:.4,Sva:.3,Pla:2.8,Pse:1.2,Bla:1.6,Rho:.5,Oth:22.6}],
[{Ral:63.6,Syn:.2,Cya:3.2,Su1:.9,Alt:.9,Su2:.4,Esc:.3,Rho:2,Oth:27.7},
{Ral:89.6,Bac:1.8,Rho:.9,Oth:7.7},
{Ral:93.5,Cya:.3,Alt:.4,Ery:.3,Rho:.5,Oth:4.7},
{Ral:74.9,Cya:1.5,Su1:.4,Alt:2.1,Ery:.6,Su2:.5,Mar:.5,Pse:1.7,Esc:.2,Rho:2,Oth:15.4},
{Ral:97,Alt:.4,Rho:.6,Oth:2.1},
{Ral:90.2,Alt:5.1,Ery:.3,Esc:.4,Rho:.6,Oth:3.4},
{Ral:62,Su1:1.8,Alt:9.3,Ery:1.6,MG2:1.5,Npu:.5,Mar:2,AEG:.5,Sva:.6,Pse:1.9,Fla:.3,ZD:.8,Oth:16.7}]
];

const SVGNS='http://www.w3.org/2000/svg';
function mk(tag,attrs,parent){
  const el=document.createElementNS(SVGNS,tag);
  for(const k in attrs){el.setAttribute(k,attrs[k]);}
  parent.appendChild(el);
  return el;
}
function drawPanel(id,cfg,groups,depths,values){
  const root=document.getElementById('panels');
  const g=mk('g',{},root);
  
  
  const xScale=v=>cfg.x0+(v/100)*(cfg.x100-cfg.x0);
  const yScale=s=>cfg.top+s*cfg.step;
  let totalSlots=0;
  depths.forEach(d=>{totalSlots+=d.length;});
  totalSlots+=groups.length-1;
  const yBottom=yScale(totalSlots);

  const yAxis=mk('line',{x1:cfg.x0,x2:cfg.x0,y1:yScale(0)-1,y2:yBottom+1,stroke:'#1a1a1a','stroke-width':2},g);
  
  
  for(let s=0;s<=totalSlots;s++){
    const t=mk('line',{x1:cfg.x0-4,x2:cfg.x0+4.5,y1:yScale(s),y2:yScale(s),stroke:'#1a1a1a','stroke-width':1.8},g);
    
    
  }

  let slot=0;
  groups.forEach((groupName,gi)=>{
    const gl=mk('text',{x:cfg.groupX,y:cfg.groupBase[gi],'font-size':25,'letter-spacing':1.5,fill:'#111'},g);
    gl.textContent=groupName;
    
    
    const br=mk('line',{x1:cfg.lineX,x2:cfg.lineX,y1:cfg.groupLine[gi][0],y2:cfg.groupLine[gi][1],stroke:'#333','stroke-width':1.1},g);
    
    
    depths[gi].forEach((depth,di)=>{
      const row=values[gi][di];
      const yTop=yScale(slot)+cfg.barOff;
      const lab=mk('text',{x:cfg.labelX,y:yTop+cfg.barH/2+cfg.labelDy,'font-size':cfg.labelSize,'text-anchor':'end',fill:'#111'},g);
      lab.textContent=depth;
      
      
      let total=0;
      taxaKeys.forEach(key=>{total+=row[key]||0;});
      let cum=0;
      taxaKeys.forEach((key,ti)=>{
        const v=row[key];
        if(!v){return;}
        const x1=xScale(cum/total*100);
        cum+=v;
        const x2=xScale(cum/total*100);
        const r=mk('rect',{x:x1,y:yTop,width:x2-x1,height:cfg.barH,fill:taxaColors[ti]},g);
        
        
      });
      slot++;
    });
    slot++;
  });

  const xAxis=mk('line',{x1:cfg.x0-1,x2:cfg.x100+1,y1:yBottom,y2:yBottom,stroke:'#1a1a1a','stroke-width':2},g);
  
  
  for(let v=0;v<=100;v+=4){
    const t=mk('line',{x1:xScale(v),x2:xScale(v),y1:yBottom,y2:yBottom+5,stroke:'#1a1a1a','stroke-width':1.2},g);
    
    
  }
  xTickValues.forEach(v=>{
    const t=mk('line',{x1:xScale(v),x2:xScale(v),y1:yBottom,y2:yBottom+10,stroke:'#1a1a1a','stroke-width':1.8},g);
    
    
    const l=mk('text',{x:xScale(v),y:cfg.xLabelBase,'font-size':20,'text-anchor':'middle',fill:'#111'},g);
    l.textContent=String(v);
    
    
  });
}

drawPanel('a',{x0:139.4,x100:709,top:34.6,step:16.77,barOff:1.7,barH:14.7,labelX:126,labelDy:7.9,labelSize:18,groupX:48,lineX:90.8,xLabelBase:588.8,
  groupBase:[72,148.3,227.3,315.5,415,519.3],
  groupLine:[[39.3,84.5],[102,172.3],[185.7,256],[270,341],[355,441.7],[459,560.7]]},panelAGroups,panelADepths,panelAValues);
drawPanel('b',{x0:879.1,x100:1449,top:34,step:16.77,barOff:1.3,barH:14.7,labelX:866.2,labelDy:7.6,labelSize:18,groupX:786.5,lineX:829.8,xLabelBase:588.8,
  groupBase:[68.3,145,222.7,310.7,410,515],
  groupLine:[[37.3,84.3],[104,168.3],[186.3,251.7],[269,336.7],[351.7,436.7],[455,556]]},panelBGroups,panelBDepths,panelBValues);
drawPanel('c',{x0:139.4,x100:709,top:669.3,step:13,barOff:.9,barH:11.8,labelX:128,labelDy:5.7,labelSize:17.5,groupX:44.5,lineX:89.4,xLabelBase:1222.5,
  groupBase:[700.7,760,821,894,969.3,1052.7,1153.3],
  groupLine:[[671,707.7],[722.7,773.3],[787.7,836.7],[851,915],[929,991.7],[1006,1084],[1099,1186.7]]},panelCGroups,panelCDepths,panelCValues);
drawPanel('d',{x0:879.1,x100:1449,top:668.3,step:12.985,barOff:.4,barH:11.6,labelX:867,labelDy:6.5,labelSize:17.5,groupX:784.5,lineX:828.9,xLabelBase:1222.5,
  groupBase:[700,760,821,894,969.3,1052.7,1153.3],
  groupLine:[[671,707.7],[722.7,773.3],[787.7,836.7],[851,915],[929,991.7],[1006,1084],[1099,1186.7]]},panelDGroups,panelDDepths,panelDValues);

(function(){
  const legend=document.getElementById('legend');
  const swatchX=[33.3,535.6,1086];
  const textX=[95,597,1148];
  const topY=[1260,1260,1259];
  const rowStep=30.72;
  taxaNames.forEach((name,i)=>{
    const col=Math.floor(i/12);
    const row=i%12;
    const y=topY[col]+row*rowStep;
    const sw=mk('rect',{x:swatchX[col],y:y,width:54,height:26,fill:taxaColors[i]},legend);
    
    
    const t=mk('text',{x:textX[col],y:y+21.5,'font-size':24.5,fill:'#111'},legend);
    
    
    const n=taxaItalicChars[i];
    if(n>0){
      const it=mk('tspan',{'font-style':'italic'},t);
      it.textContent=name.slice(0,n);
    }
    if(n<name.length){
      const rest=mk('tspan',{},t);
      rest.textContent=name.slice(n);
    }
  });
})();
</script>
</body>
</html>
